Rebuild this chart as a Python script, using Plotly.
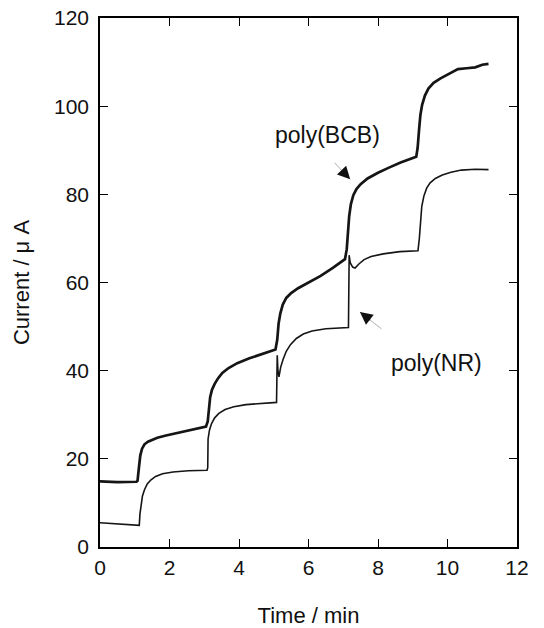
import plotly.graph_objects as go

# Chronoamperometric response, current vs time, for two polymer-modified electrodes
t_bcb = [0.00, 0.50, 1.05,
         1.08, 1.12, 1.16, 1.21, 1.28, 1.38, 1.50, 1.65, 1.90, 2.25, 2.60, 3.05,
         3.10, 3.13, 3.17, 3.22, 3.30, 3.40, 3.52, 3.70, 3.95, 4.30, 4.70, 5.05,
         5.10, 5.14, 5.19, 5.26, 5.36, 5.50, 5.70, 6.00, 6.35, 6.70, 7.05,
         7.10, 7.13, 7.17, 7.22, 7.29, 7.38, 7.50, 7.70, 8.00, 8.30, 8.65, 9.10,
         9.14, 9.18, 9.22, 9.27, 9.35, 9.45, 9.60, 9.80, 10.05, 10.30, 10.55, 10.80,
         11.00, 11.18]
i_bcb = [14.9, 14.7, 14.8,
         15.0, 18.0, 20.8, 22.3, 23.3, 23.9, 24.3, 24.8, 25.3, 25.9, 26.5, 27.3,
         28.5, 31.5, 34.0, 35.6, 37.0, 38.3, 39.5, 40.6, 41.7, 42.8, 43.8, 44.8,
         47.0, 50.7, 53.0, 55.0, 56.5, 57.6, 58.7, 60.0, 61.5, 63.3, 65.3,
         67.5, 71.0, 75.0, 77.8, 79.8, 81.2, 82.3, 83.6, 84.9, 86.0, 87.2, 88.5,
         90.5, 94.5, 98.0, 100.3, 102.4, 104.0, 105.3, 106.3, 107.4, 108.4, 108.6, 108.8,
         109.4, 109.6]

t_nr = [0.00, 0.50,
        1.13, 1.15, 1.18, 1.22, 1.28, 1.36, 1.46, 1.60, 1.80, 2.10, 2.54, 3.08,
        3.10, 3.11, 3.15, 3.21, 3.30, 3.42, 3.60, 3.85, 4.20, 4.60, 5.08,
        5.10, 5.12, 5.15, 5.20, 5.27, 5.36, 5.48, 5.65, 5.85, 6.10, 6.50, 7.15,
        7.17, 7.20, 7.27, 7.34, 7.45, 7.60, 7.80, 8.15, 8.63, 9.15,
        9.19, 9.22, 9.26, 9.32, 9.40, 9.50, 9.65, 9.85, 10.10, 10.40, 10.80, 11.18]
i_nr = [5.5, 5.3,
        4.9, 7.5, 9.8, 11.5, 13.0, 14.3, 15.2, 16.0, 16.6, 17.0, 17.3, 17.4,
        18.0, 24.5, 26.5, 28.0, 29.3, 30.3, 31.2, 31.8, 32.3, 32.6, 32.8,
        43.5, 40.0, 38.6, 40.8, 42.6, 44.4, 45.9, 47.3, 48.3, 49.0, 49.5, 49.8,
        66.2, 64.5, 63.5, 63.3, 64.2, 65.2, 65.9, 66.5, 67.0, 67.2,
        70.0, 74.0, 77.3, 79.6, 81.4, 82.6, 83.6, 84.4, 85.0, 85.5, 85.7, 85.6]

x_ticks = [0, 2, 4, 6, 8, 10, 12]
y_ticks = [0, 20, 40, 60, 80, 100, 120]

FONT = "Liberation Sans, Arial, sans-serif"

fig = go.Figure()
fig.add_trace(go.Scatter(x=t_bcb, y=i_bcb, mode="lines", name="poly(BCB)",
                         line=dict(color="#151515", width=2.7)))
fig.add_trace(go.Scatter(x=t_nr, y=i_nr, mode="lines", name="poly(NR)",
                         line=dict(color="#151515", width=1.6)))

axis_common = dict(showline=True, linecolor="black", linewidth=1.5, mirror="ticks",
                   ticks="inside", ticklen=8, tickwidth=1.3, tickcolor="black",
                   showgrid=False, zeroline=False, automargin=False,
                   tickfont=dict(family=FONT, size=21, color="#111"))

fig.update_xaxes(range=[0, 12], tickvals=x_ticks, ticktext=[str(v) for v in x_ticks],
                 title=dict(text="Time / min", font=dict(family=FONT, size=22, color="#111"),
                            standoff=50),
                 ticklabelstandoff=1, **axis_common)
fig.update_yaxes(range=[0, 120], tickvals=y_ticks, ticktext=[str(v) for v in y_ticks],
                 title=dict(text="Current / μ A", font=dict(family=FONT, size=22, color="#111"),
                            standoff=18),
                 ticklabelstandoff=5, **axis_common)

# curve labels
fig.add_annotation(x=6.55, y=93.5, text="poly(BCB)", showarrow=False,
                   font=dict(family=FONT, size=23, color="#111"))
fig.add_annotation(x=9.67, y=41.8, text="poly(NR)", showarrow=False,
                   font=dict(family=FONT, size=23, color="#111"))

# pointer arrows: faint tail plus solid head
for tip_x, tip_y, dx, dy in [(7.2, 83.4, -17, -18), (7.48, 53.3, 23, 18)]:
    fig.add_annotation(x=tip_x, y=tip_y, ax=dx, ay=dy, text="", showarrow=True,
                       arrowhead=0, arrowwidth=0.8, arrowcolor="#9a9a9a")
    fig.add_annotation(x=tip_x, y=tip_y, ax=dx * 0.5, ay=dy * 0.5, text="",
                       showarrow=True, arrowhead=2, arrowsize=1.8, arrowwidth=1.4,
                       arrowcolor="#111")

fig.update_layout(width=544, height=628, margin=dict(l=100, r=27, t=18, b=81),
                  paper_bgcolor="white", plot_bgcolor="white", showlegend=False)

fig.write_html("out.html")
